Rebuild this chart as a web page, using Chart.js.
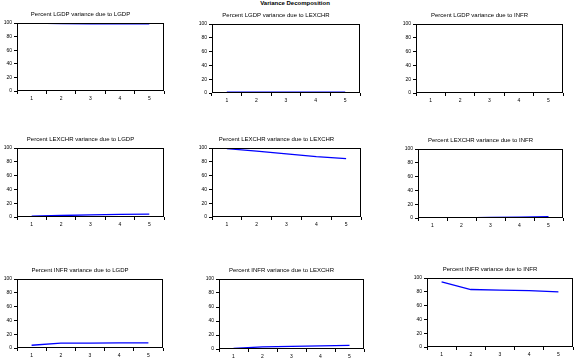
<!DOCTYPE html>
<html>
<head>
<meta charset="utf-8">
<script src="https://cdn.jsdelivr.net/npm/chart.js@4/dist/chart.umd.min.js"></script>
<style>
  html, body { margin:0; padding:0; background:#fff; width:576px; height:358px; overflow:hidden; }
  #wrap { position:relative; width:576px; height:358px; overflow:hidden; }
  canvas { position:absolute; }
  #main { position:absolute; left:240px; width:110px; top:0px; text-align:center; z-index:2;
          font:bold 6px "Liberation Sans", Arial, sans-serif; color:#000; line-height:7px; }
</style>
</head>
<body>
<div id="wrap">
  <div id="main">Variance Decomposition</div>
</div>
<script>
// ---- data ----
const periods = ['1', '2', '3', '4', '5'];
const yTicks = [0, 20, 40, 60, 80, 100];
const mainTitle = 'Variance Decomposition';
const panelTitles = [
  'Percent LGDP variance due to LGDP',
  'Percent LGDP variance due to LEXCHR',
  'Percent LGDP variance due to INFR',
  'Percent LEXCHR variance due to LGDP',
  'Percent LEXCHR variance due to LEXCHR',
  'Percent LEXCHR variance due to INFR',
  'Percent INFR variance due to LGDP',
  'Percent INFR variance due to LEXCHR',
  'Percent INFR variance due to INFR'
];
const lgdpDueLgdp     = [100, 99.0, 98.8, 98.7, 98.6];
const lgdpDueLexchr   = [1.2, 1.3, 1.3, 1.4, 1.4];
const lgdpDueInfr     = [0.0, 0.0, 0.0, 0.1, 0.1];
const lexchrDueLgdp   = [1.2, 2.2, 3.0, 3.8, 4.3];
const lexchrDueLexchr = [99.0, 95.5, 91.5, 87.5, 84.5];
const lexchrDueInfr   = [0.1, 0.3, 0.7, 1.4, 1.8];
const infrDueLgdp     = [4.0, 7.0, 7.2, 7.3, 7.3];
const infrDueLexchr   = [0.8, 3.0, 3.8, 4.6, 5.3];
const infrDueInfr     = [94.5, 83.3, 82.4, 81.6, 80.0];

const panelSeries = [
  lgdpDueLgdp, lgdpDueLexchr, lgdpDueInfr,
  lexchrDueLgdp, lexchrDueLexchr, lexchrDueInfr,
  infrDueLgdp, infrDueLexchr, infrDueInfr
];

// ---- layout (plot-area boxes in page pixels) ----
const boxes = [
  {l:17,  r:164, t:23,  b:91},
  {l:212, r:360, t:24,  b:93},
  {l:416, r:563, t:24,  b:93},
  {l:17,  r:164, t:148, b:217},
  {l:212, r:361, t:148, b:217},
  {l:418, r:563, t:149, b:218},
  {l:17,  r:163, t:279, b:348},
  {l:219, r:364, t:279, b:349},
  {l:427, r:573, t:278, b:347}
];

document.getElementById('main').textContent = mainTitle;

const FONT = '"Liberation Sans", Arial, sans-serif';
const Y_W = 20, X_H = 12, T_H = 14, PAD_R = 20;

const boxPlugin = {
  id: 'box',
  afterDraw(chart) {
    const a = chart.chartArea, c = chart.ctx;
    c.save();
    c.strokeStyle = '#000';
    c.lineWidth = 1;
    c.strokeRect(Math.round(a.left) + 0.5, Math.round(a.top) + 0.5,
                 Math.round(a.right - a.left) - 1, Math.round(a.bottom - a.top) - 1);
    c.restore();
  }
};

const wrap = document.getElementById('wrap');
boxes.forEach((bx, i) => {
  const cv = document.createElement('canvas');
  const w = (bx.r - bx.l) + Y_W + PAD_R;
  const h = (bx.b - bx.t) + T_H + X_H;
  cv.width = w; cv.height = h;
  cv.style.width = w + 'px'; cv.style.height = h + 'px';
  cv.style.left = (bx.l - Y_W) + 'px';
  cv.style.top = (bx.t - T_H) + 'px';
  wrap.appendChild(cv);

  new Chart(cv.getContext('2d'), {
    type: 'line',
    data: {
      labels: periods,
      datasets: [{
        data: panelSeries[i],
        borderColor: '#0000ff',
        borderWidth: 1.3,
        pointRadius: 0,
        fill: false,
        tension: 0
      }]
    },
    options: {
      responsive: false,
      animation: false,
      devicePixelRatio: 1,
      layout: { padding: { left: 0, right: PAD_R, top: 0, bottom: 0 } },
      plugins: {
        legend: { display: false },
        tooltip: { enabled: false },
        title: {
          display: true,
          text: panelTitles[i],
          color: '#000',
          font: { family: FONT, size: 6, lineHeight: 1, weight: 'normal' },
          padding: { top: 2, bottom: 6 }
        }
      },
      scales: {
        x: {
          type: 'category',
          offset: true,
          grid: { display: true, drawOnChartArea: false, offset: true, tickLength: 3, color: '#000' },
          border: { display: false },
          ticks: { color: '#000', font: { family: FONT, size: 5 }, padding: 2, maxRotation: 0, autoSkip: false },
          afterFit(s) { s.height = X_H; }
        },
        y: {
          min: 0, max: 100,
          afterBuildTicks(s) { s.ticks = yTicks.map(v => ({ value: v })); },
          grid: { display: true, drawOnChartArea: false, tickLength: 3, color: '#000' },
          border: { display: false },
          ticks: { color: '#000', font: { family: FONT, size: 5 }, padding: 2 },
          afterFit(s) { s.width = Y_W; }
        }
      }
    },
    plugins: [boxPlugin]
  });
});
</script>
</body>
</html>
